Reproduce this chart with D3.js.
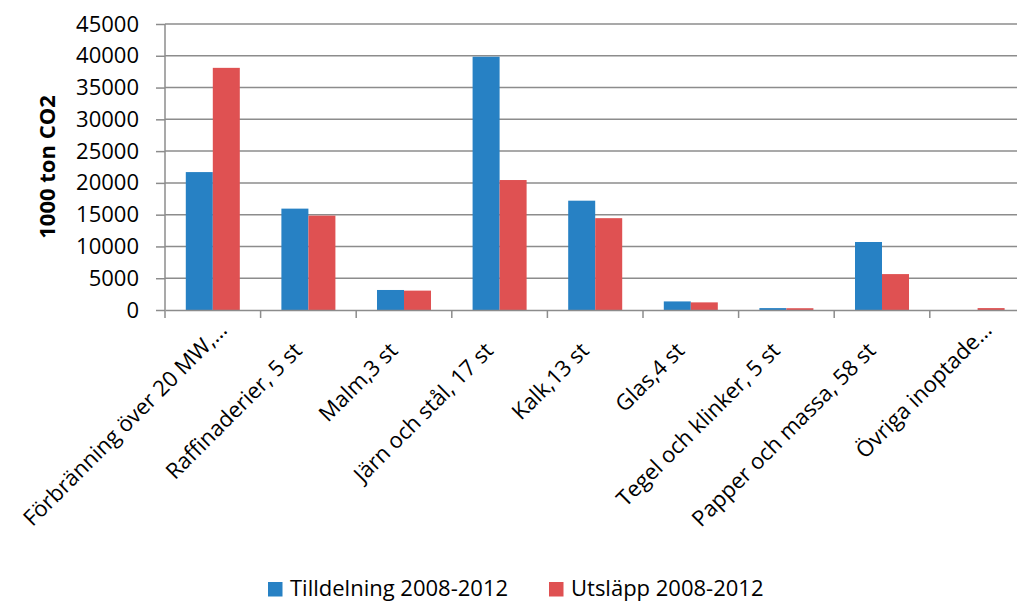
<!DOCTYPE html>
<html>
<head>
<meta charset="utf-8">
<script src="https://cdn.jsdelivr.net/npm/d3@7"></script>
<style>
  html, body { margin: 0; padding: 0; background: #fff; }
  svg { display: block; font-family: "Open Sans", sans-serif; }
</style>
</head>
<body>
<svg id="chart" width="1017" height="601"></svg>
<script>
// Kategorier (sektorer) och värden i 1000 ton CO2
const categories = [
  "Förbränning över 20 MW,…",
  "Raffinaderier, 5 st",
  "Malm,3 st",
  "Järn och stål, 17 st",
  "Kalk,13 st",
  "Glas,4 st",
  "Tegel och klinker, 5 st",
  "Papper och massa, 58 st",
  "Övriga inoptade…"
];
const tilldelning = [21700, 15950, 3150, 39850, 17200, 1350, 300, 10700, 0];
const utslapp     = [38100, 14850, 3050, 20450, 14450, 1200, 280, 5650, 300];
const seriesNames = ["Tilldelning 2008-2012", "Utsläpp 2008-2012"];
const seriesColors = ["#2781C4", "#DF5152"];
const yTicks = [0, 5000, 10000, 15000, 20000, 25000, 30000, 35000, 40000, 45000];
const yTitle = "1000 ton CO2";

const svg = d3.select("#chart");
const plotLeft = 165, plotTop = 24, plotBottom = 310;
const step = 95.6;
const plotRight = plotLeft + step * categories.length;
const axisColor = "#8c8c8c";

const x = d3.scaleBand().domain(categories).range([plotLeft, plotRight]).paddingInner(0).paddingOuter(0);
const inner = d3.scaleBand().domain([0, 1]).range([0, x.bandwidth()]).paddingOuter(0.77).paddingInner(0);
const y = d3.scaleLinear().domain([0, 45000]).range([plotBottom, plotTop]);

// Horisontella stödlinjer
svg.append("g")
  .selectAll("line")
  .data(yTicks.filter(d => d > 0))
  .join("line")
  .attr("x1", plotLeft).attr("x2", plotRight)
  .attr("y1", d => y(d)).attr("y2", d => y(d))
  .attr("stroke", axisColor).attr("stroke-width", 1.5);

// Staplar, två per kategori
const data = categories.map((c, i) => ({ c, vals: [tilldelning[i], utslapp[i]] }));
const groups = svg.append("g").selectAll("g")
  .data(data).join("g")
  .attr("transform", d => `translate(${x(d.c)},0)`);
groups.selectAll("rect")
  .data(d => d.vals.map((v, k) => ({ v, k })))
  .join("rect")
  .attr("x", d => inner(d.k))
  .attr("width", inner.bandwidth())
  .attr("y", d => y(d.v))
  .attr("height", d => y(0) - y(d.v))
  .attr("fill", d => seriesColors[d.k]);

// Y-axel
const yAxis = svg.append("g")
  .attr("transform", `translate(${plotLeft},0)`)
  .call(d3.axisLeft(y).tickValues(yTicks).tickSize(9).tickPadding(17).tickFormat(d3.format("d")));
yAxis.select(".domain").attr("stroke", axisColor).attr("stroke-width", 1.5).attr("d", `M0,${plotTop}V${plotBottom}`);
yAxis.selectAll(".tick line").attr("stroke", axisColor).attr("stroke-width", 1.5);
yAxis.selectAll(".tick text").attr("font-size", 22).attr("fill", "#000").style("font-family", "'Open Sans', sans-serif");

// X-axel med skiljestreck mellan kategorierna
const xAxis = svg.append("g")
  .attr("transform", `translate(0,${plotBottom})`)
  .call(d3.axisBottom(x).tickSize(0).tickFormat(""));
xAxis.select(".domain").attr("stroke", axisColor).attr("stroke-width", 1.5);
const xTickPos = d3.range(categories.length + 1).map(i => plotLeft + i * step);
xAxis.append("g").selectAll("line")
  .data(xTickPos).join("line")
  .attr("x1", d => d).attr("x2", d => d)
  .attr("y1", 0).attr("y2", 8)
  .attr("stroke", axisColor).attr("stroke-width", 1.5);

// Kategorietiketter, roterade 45°
svg.append("g").selectAll("text")
  .data(categories).join("text")
  .attr("transform", d => `translate(${x(d) + x.bandwidth() / 2 - 5},352) rotate(-45)`)
  .attr("x", d => d.endsWith("…") ? 29 : 0)
  .attr("text-anchor", "end")
  .attr("font-size", 22)
  .attr("fill", "#000")
  .text(d => d);

// Y-axelns titel
svg.append("text")
  .attr("transform", `translate(55,${(plotTop + plotBottom) / 2}) rotate(-90)`)
  .attr("text-anchor", "middle")
  .attr("font-size", 22)
  .attr("font-weight", "bold")
  .attr("fill", "#000")
  .text(yTitle);

// Teckenförklaring
const legendX = [268, 549];
const legend = svg.append("g").selectAll("g")
  .data(seriesNames).join("g")
  .attr("transform", (d, i) => `translate(${legendX[i]},582)`);
legend.append("rect").attr("width", 14.5).attr("height", 14.5).attr("fill", (d, i) => seriesColors[i]);
legend.append("text")
  .attr("x", 22).attr("y", 14)
  .attr("font-size", 22).attr("fill", "#000")
  .text(d => d);
</script>
</body>
</html>
